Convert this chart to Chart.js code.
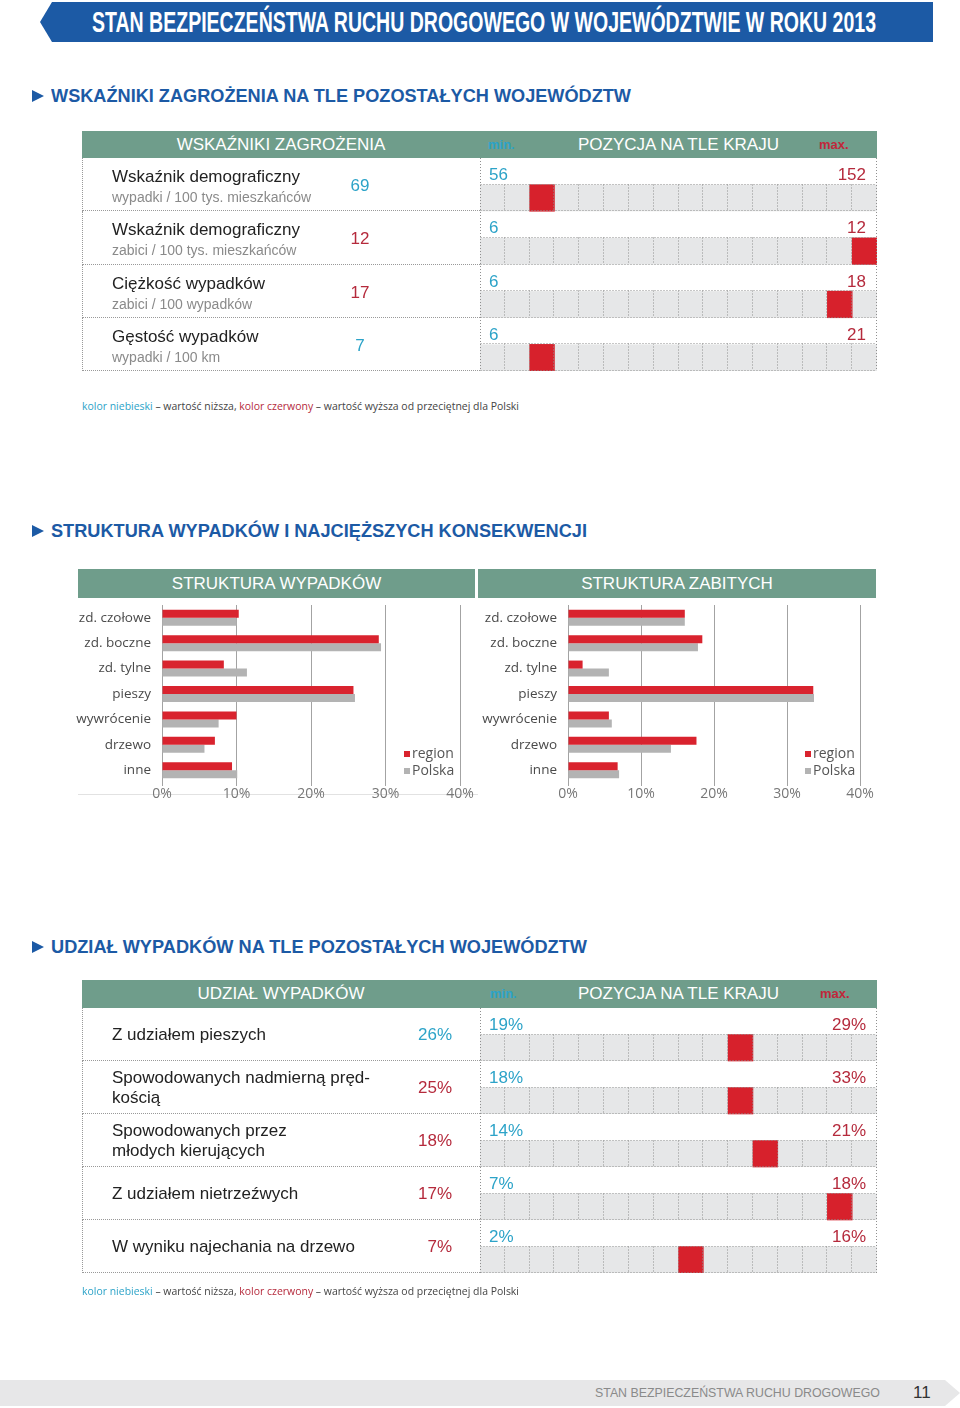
<!DOCTYPE html>
<html lang="pl">
<head>
<meta charset="UTF-8">
<title>Stan bezpieczeństwa ruchu drogowego w województwie w roku 2013</title>
<script src="https://cdn.jsdelivr.net/npm/chart.js"></script>
<style>
  body { margin: 0; width: 960px; height: 1408px; position: relative; overflow: hidden; background: #fff;
         font-family: "Liberation Sans", Arial, sans-serif; color: #222; }
  .abs { position: absolute; }
  canvas { position: absolute; }
  #banner { left: 40px; top: 2px; width: 893px; height: 40px; background: #1c5aa5;
            clip-path: polygon(12px 0, 100% 0, 100% 100%, 12px 100%, 0 50%); }
  #title { left: 92px; top: 2px; line-height: 40px; color: #fff; font-weight: bold; font-size: 30px;
           white-space: nowrap; transform-origin: 0 50%; }
  .section { left: 32px; height: 20px; }
  .section .tri { position: absolute; left: 0; top: 4px; width: 0; height: 0;
                  border-top: 6px solid transparent; border-bottom: 6px solid transparent; border-left: 12px solid #1c5aa5; }
  .section .txt { position: absolute; left: 19px; top: 0; line-height: 20px; font-size: 19px; font-weight: bold;
                  color: #1c5aa5; white-space: nowrap; transform-origin: 0 50%; }
  .head { background: #6f9d8b; color: #fff; font-size: 17px; }
  .head span { white-space: nowrap; }
  .mm { font-size: 13px; font-weight: bold; }
  .cell { box-sizing: border-box; border-left: 1px dotted #999; border-bottom: 1px dotted #999; }
  .lab { position: absolute; left: 29px; font-size: 17px; line-height: 20px; color: #222; white-space: pre-line; }
  .unit { position: absolute; left: 29px; font-size: 14px; line-height: 18px; color: #8a8a8a; white-space: nowrap; }
  .val { position: absolute; font-size: 17px; line-height: 20px; }
  .rng { position: absolute; font-size: 17px; line-height: 20px; }
  .blue { color: #2ca3c8; }
  .red { color: #b52a3c; }
  .note { left: 82px; font-family: "Open Sans", sans-serif; font-size: 11px; line-height: 14px; color: #444;
          white-space: nowrap; transform-origin: 0 50%; }
  .legend { font-family: "Open Sans", sans-serif; font-size: 14px; line-height: 17px; color: #555; }
  .legend i { display: inline-block; width: 6px; height: 6px; margin-right: 2px; vertical-align: 1px; }
  #footer { left: 0; top: 1380px; width: 960px; height: 26px; background: #e7e7e8;
            clip-path: polygon(0 0, 945px 0, 960px 50%, 945px 100%, 0 100%); }
  #footText { left: 595px; top: 1384px; line-height: 18px; font-size: 13px; color: #8a8a8a; white-space: nowrap; transform-origin: 0 50%; }
</style>
</head>
<body>

<div id="banner" class="abs"></div>
<div id="title" class="abs fit" data-w="784">STAN BEZPIECZEŃSTWA RUCHU DROGOWEGO W WOJEWÓDZTWIE W ROKU 2013</div>

<div class="abs section" style="top:86px"><div class="tri"></div><div class="txt fit" data-w="580">WSKAŹNIKI ZAGROŻENIA NA TLE POZOSTAŁYCH WOJEWÓDZTW</div></div>

<div class="abs head" style="left:82px;top:131px;width:795px;height:27px;line-height:27px">
  <span class="abs" style="left:0;width:398px;text-align:center">WSKAŹNIKI ZAGROŻENIA</span>
  <span class="abs mm blue" style="left:406px">min.</span>
  <span class="abs" style="left:398px;width:397px;text-align:center">POZYCJA NA TLE KRAJU</span>
  <span class="abs mm" style="left:737px;color:#c0283a">max.</span>
</div>
<canvas id="pos1" width="397" height="213" style="left:480px;top:158px"></canvas>
<div id="table1"></div>

<div class="abs note fit" data-w="437" style="top:399px"><span class="blue">kolor niebieski</span> – wartość niższa, <span class="red">kolor czerwony</span> – wartość wyższa od przeciętnej dla Polski</div>

<div class="abs section" style="top:521px"><div class="tri"></div><div class="txt fit" data-w="536">STRUKTURA WYPADKÓW I NAJCIĘŻSZYCH KONSEKWENCJI</div></div>

<div class="abs head" style="left:78px;top:569px;width:397px;height:29px;line-height:29px;text-align:center">STRUKTURA WYPADKÓW</div>
<div class="abs head" style="left:478px;top:569px;width:398px;height:29px;line-height:29px;text-align:center">STRUKTURA ZABITYCH</div>
<div class="abs" style="left:78px;top:794px;width:400px;height:1px;background:#e2e2e2"></div>
<canvas id="chartWyp" width="405" height="206" style="left:75px;top:600px"></canvas>
<canvas id="chartZab" width="402" height="206" style="left:478px;top:600px"></canvas>
<div class="abs legend" style="left:404px;top:744px"><i style="background:#d9232e"></i>region<br><i style="background:#b3b3b3"></i>Polska</div>
<div class="abs legend" style="left:805px;top:744px"><i style="background:#d9232e"></i>region<br><i style="background:#b3b3b3"></i>Polska</div>

<div class="abs section" style="top:937px"><div class="tri"></div><div class="txt fit" data-w="536">UDZIAŁ WYPADKÓW NA TLE POZOSTAŁYCH WOJEWÓDZTW</div></div>

<div class="abs head" style="left:82px;top:980px;width:795px;height:28px;line-height:28px">
  <span class="abs" style="left:0;width:398px;text-align:center">UDZIAŁ WYPADKÓW</span>
  <span class="abs mm blue" style="left:408px">min.</span>
  <span class="abs" style="left:398px;width:397px;text-align:center">POZYCJA NA TLE KRAJU</span>
  <span class="abs mm" style="left:738px;color:#c0283a">max.</span>
</div>
<canvas id="pos2" width="397" height="265" style="left:480px;top:1008px"></canvas>
<div id="table2"></div>

<div class="abs note fit" data-w="437" style="top:1284px"><span class="blue">kolor niebieski</span> – wartość niższa, <span class="red">kolor czerwony</span> – wartość wyższa od przeciętnej dla Polski</div>

<div id="footer" class="abs"></div>
<div id="footText" class="abs fit" data-w="285">STAN BEZPIECZEŃSTWA RUCHU DROGOWEGO</div>
<div class="abs" style="left:913px;top:1383px;line-height:20px;font-size:17px;color:#333">11</div>

<script>
// wskaźniki zagrożenia
const wskLabels = ['Wskaźnik demograficzny', 'Wskaźnik demograficzny', 'Ciężkość wypadków', 'Gęstość wypadków'];
const wskUnits = ['wypadki / 100 tys. mieszkańców', 'zabici / 100 tys. mieszkańców', 'zabici / 100 wypadków', 'wypadki / 100 km'];
const wskValues = ['69', '12', '17', '7'];
const wskLower = [true, false, false, true];
const wskMin = ['56', '6', '6', '6'];
const wskMax = ['152', '12', '18', '21'];
const wskPosition = [3, 16, 15, 3];

// struktura wypadków / zabitych (%)
const categories = ['zd. czołowe', 'zd. boczne', 'zd. tylne', 'pieszy', 'wywrócenie', 'drzewo', 'inne'];
const wypadkiRegion = [10.3, 29.1, 8.3, 25.7, 10.0, 7.1, 9.4];
const wypadkiPolska = [10.0, 29.4, 11.4, 25.9, 7.6, 5.7, 10.1];
const zabiciRegion = [16.0, 18.4, 2.0, 33.6, 5.6, 17.6, 6.8];
const zabiciPolska = [16.0, 17.8, 5.6, 33.7, 6.0, 14.1, 7.0];
const xTickValues = [0, 10, 20, 30, 40];

// udział wypadków
const udzialLabels = ['Z udziałem pieszych', 'Spowodowanych nadmierną pręd-\nkością', 'Spowodowanych przez\nmłodych kierujących', 'Z udziałem nietrzeźwych', 'W wyniku najechania na drzewo'];
const udzialValues = ['26%', '25%', '18%', '17%', '7%'];
const udzialLower = [true, false, false, false, false];
const udzialMin = ['19%', '18%', '14%', '7%', '2%'];
const udzialMax = ['29%', '33%', '21%', '18%', '16%'];
const udzialPosition = [11, 11, 12, 15, 9];

const positionSlots = 16; // liczba województw

// wiersze tabel (tekst)
function buildRows(target, cfg) {
  const box = document.getElementById(target);
  cfg.labels.forEach((lab, i) => {
    const top = cfg.top + i * cfg.rowH;
    const cell = document.createElement('div');
    cell.className = 'abs cell';
    cell.style.cssText = `left:82px;top:${top}px;width:398px;height:${cfg.rowH}px`;

    const l = document.createElement('div');
    l.className = 'lab';
    l.textContent = lab;
    if (cfg.units) {
      l.style.top = '9px';
      const u = document.createElement('div');
      u.className = 'unit';
      u.style.top = '30px';
      u.textContent = cfg.units[i];
      cell.appendChild(u);
    } else {
      const lines = lab.split('\n').length;
      l.style.top = (cfg.rowH / 2 - lines * 10) + 'px';
    }
    cell.appendChild(l);

    const v = document.createElement('div');
    v.className = 'val ' + (cfg.lower[i] ? 'blue' : 'red');
    v.textContent = cfg.values[i];
    v.style.top = (cfg.rowH / 2 - 10 + (cfg.units ? 1.5 : 0)) + 'px';
    if (cfg.valueAlign === 'center') {
      v.style.left = '227px'; v.style.width = '100px'; v.style.textAlign = 'center';
    } else {
      v.style.left = '269px'; v.style.width = '100px'; v.style.textAlign = 'right';
    }
    cell.appendChild(v);
    box.appendChild(cell);

    const mn = document.createElement('div');
    mn.className = 'rng blue';
    mn.style.cssText = `left:489px;top:${top + 7}px`;
    mn.textContent = cfg.mins[i];
    const mx = document.createElement('div');
    mx.className = 'rng red';
    mx.style.cssText = `right:94px;top:${top + 7}px`;
    mx.textContent = cfg.maxs[i];
    box.appendChild(mn);
    box.appendChild(mx);
  });
}

buildRows('table1', { top: 158, rowH: 53.25, labels: wskLabels, units: wskUnits, values: wskValues,
  lower: wskLower, mins: wskMin, maxs: wskMax, valueAlign: 'center' });
buildRows('table2', { top: 1008, rowH: 53, labels: udzialLabels, values: udzialValues,
  lower: udzialLower, mins: udzialMin, maxs: udzialMax, valueAlign: 'right' });

// dopasowanie szerokości nagłówków
document.querySelectorAll('.fit').forEach(el => {
  el.style.display = 'inline-block';
  const w = el.getBoundingClientRect().width;
  el.style.transform = `scaleX(${el.dataset.w / w})`;
});

// siatka pozycji (szare pasy + kropkowane linie)
const positionGrid = {
  id: 'positionGrid',
  beforeDatasetsDraw(chart) {
    const { ctx, scales: { x, y } } = chart;
    const n = chart.data.labels.length;
    const band = (y.bottom - y.top) / n;
    ctx.save();
    ctx.fillStyle = '#e6e7e8';
    for (let i = 1; i < n; i += 2) {
      const yc = y.getPixelForValue(i);
      ctx.fillRect(x.getPixelForValue(0), yc - band / 2, x.getPixelForValue(positionSlots) - x.getPixelForValue(0), band);
    }
    ctx.restore();
  },
  afterDatasetsDraw(chart) {
    const { ctx, scales: { x, y } } = chart;
    const n = chart.data.labels.length;
    const band = (y.bottom - y.top) / n;
    const sx = v => Math.min(Math.max(Math.round(v), 1), chart.width) - 0.5;
    const sy = v => Math.min(Math.max(Math.round(v), 1), chart.height) - 0.5;
    ctx.save();
    ctx.strokeStyle = '#8f8f8f';
    ctx.lineWidth = 1;
    ctx.setLineDash([1, 2]);
    ctx.beginPath();
    for (let i = 1; i < n; i += 2) {
      const yc = y.getPixelForValue(i);
      const t = sy(yc - band / 2), b = sy(yc + band / 2);
      ctx.moveTo(sx(x.getPixelForValue(0)), t); ctx.lineTo(sx(x.getPixelForValue(positionSlots)), t);
      ctx.moveTo(sx(x.getPixelForValue(0)), b); ctx.lineTo(sx(x.getPixelForValue(positionSlots)), b);
      for (let k = 1; k < positionSlots; k++) {
        const px = sx(x.getPixelForValue(k));
        ctx.moveTo(px, t); ctx.lineTo(px, b);
      }
    }
    ctx.moveTo(sx(x.getPixelForValue(0)), y.top); ctx.lineTo(sx(x.getPixelForValue(0)), y.bottom);
    ctx.moveTo(sx(x.getPixelForValue(positionSlots)), y.top); ctx.lineTo(sx(x.getPixelForValue(positionSlots)), y.bottom);
    ctx.stroke();
    ctx.restore();
  }
};

function positionChart(id, positions) {
  const labels = [];
  const squares = [];
  positions.forEach((p, i) => {
    labels.push('w' + i, 'p' + i);
    squares.push(null, [p - 1, p]);
  });
  return new Chart(document.getElementById(id), {
    type: 'bar',
    data: {
      labels: labels,
      datasets: [{ data: squares, backgroundColor: '#d7212c', categoryPercentage: 1, barPercentage: 1, borderWidth: 0 }]
    },
    options: {
      indexAxis: 'y',
      responsive: false,
      animation: false,
      layout: { padding: 0 },
      plugins: { legend: { display: false }, tooltip: { enabled: false } },
      scales: {
        x: { type: 'linear', min: 0, max: positionSlots, display: false },
        y: { display: false }
      }
    },
    plugins: [positionGrid]
  });
}

positionChart('pos1', wskPosition);
positionChart('pos2', udzialPosition);

// wykresy struktury
function structureChart(id, region, polska, yWidth) {
  return new Chart(document.getElementById(id), {
    type: 'bar',
    data: {
      labels: categories,
      datasets: [
        { label: 'region', data: region, backgroundColor: '#d9232e', categoryPercentage: 0.63, barPercentage: 1 },
        { label: 'Polska', data: polska, backgroundColor: '#b3b3b3', categoryPercentage: 0.63, barPercentage: 1 }
      ]
    },
    options: {
      indexAxis: 'y',
      responsive: false,
      animation: false,
      layout: { padding: { top: 5, right: 20, left: 0, bottom: 0 } },
      plugins: { legend: { display: false }, tooltip: { enabled: false } },
      scales: {
        x: {
          min: 0, max: 40,
          afterBuildTicks: s => { s.ticks = xTickValues.map(v => ({ value: v })); },
          ticks: { callback: v => v + '%', color: '#777', font: { family: 'Open Sans', size: 14 }, padding: 0, maxRotation: 0 },
          grid: { color: '#a3a3a3', tickLength: 3 },
          border: { display: false },
          afterFit: s => { s.height = 23; s.paddingLeft = 0; s.paddingRight = 0; }
        },
        y: {
          ticks: { color: '#4a4a4a', font: { family: 'Open Sans', size: 13.5 }, padding: 11 },
          grid: { display: false, drawTicks: false },
          border: { display: true, color: '#a3a3a3' },
          afterFit: s => { s.width = yWidth; s.paddingTop = 0; s.paddingBottom = 0; }
        }
      }
    }
  });
}

structureChart('chartWyp', wypadkiRegion, wypadkiPolska, 87);
structureChart('chartZab', zabiciRegion, zabiciPolska, 90);
</script>
</body>
</html>
